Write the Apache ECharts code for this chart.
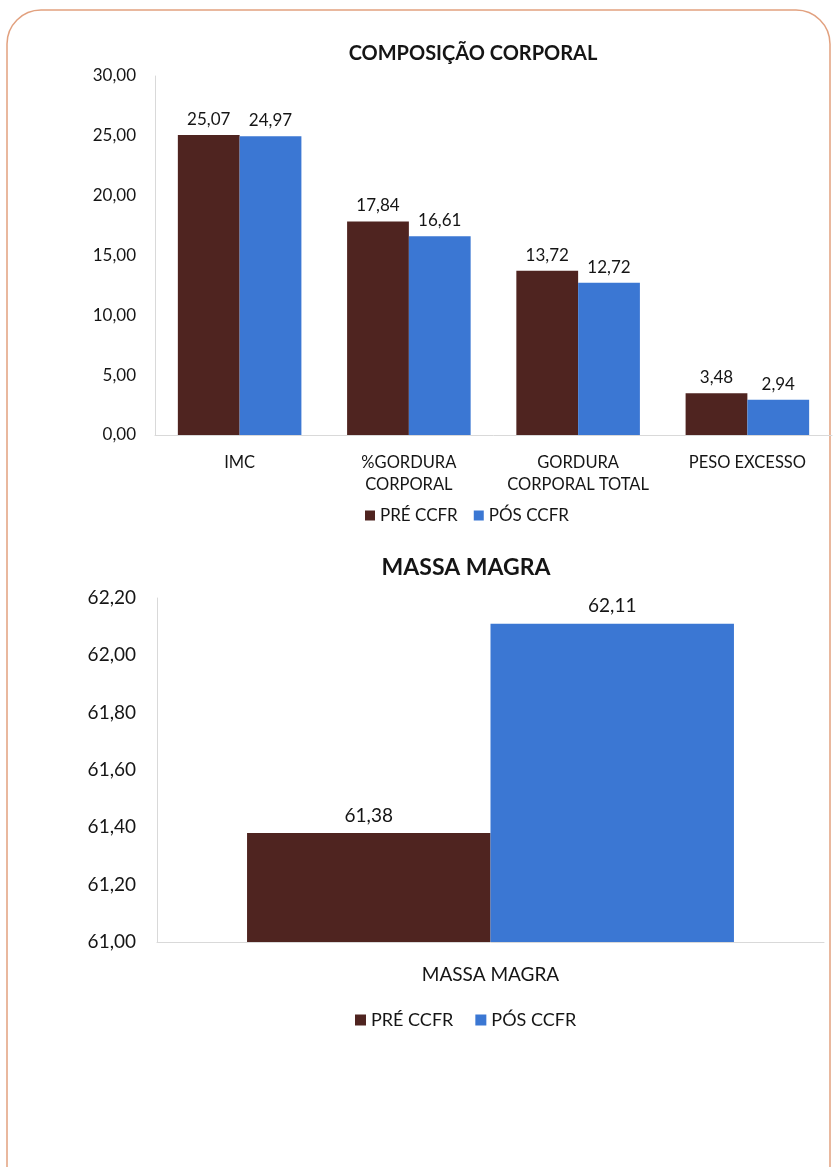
<!DOCTYPE html>
<html>
<head>
<meta charset="utf-8">
<script src="https://cdn.jsdelivr.net/npm/echarts@6/dist/echarts.min.js"></script>
<style>
html,body{margin:0;padding:0;background:#fff;}
#c{width:836px;height:1167px;}
</style>
</head>
<body>
<div id="c"></div>
<script>
// ---- data ----
const series_names = ['PRÉ CCFR', 'PÓS CCFR'];
const comp_categories = ['IMC', '%GORDURA\nCORPORAL', 'GORDURA\nCORPORAL TOTAL', 'PESO EXCESSO'];
const comp_pre = [25.07, 17.84, 13.72, 3.48];
const comp_pos = [24.97, 16.61, 12.72, 2.94];
const massa_categories = ['MASSA MAGRA'];
const massa_pre = [61.38];
const massa_pos = [62.11];
const comp_title = 'COMPOSIÇÃO CORPORAL';
const massa_title = 'MASSA MAGRA';

const FONT = 'Lato';
const BROWN = '#4f2420';
const BLUE = '#3b77d3';
const TXT = '#151515';
const fmt = v => Number(v).toFixed(2).replace('.', ',');

const chart = echarts.init(document.getElementById('c'), null, {renderer: 'canvas'});
chart.setOption({
  backgroundColor: '#fff',
  animation: false,
  textStyle: {fontFamily: FONT, color: TXT},
  graphic: [{
    type: 'rect',
    shape: {x: 7, y: 10, width: 823, height: 1190, r: 34},
    style: {fill: 'none', stroke: '#e2a17f', lineWidth: 1.5},
    z: -1
  }],
  title: [
    {text: comp_title, left: 468, top: 49, textAlign: 'center', textVerticalAlign: 'middle',
     textStyle: {fontFamily: FONT, fontSize: 20, fontWeight: 'bold', color: TXT}},
    {text: massa_title, left: 461, top: 563, textAlign: 'center', textVerticalAlign: 'middle',
     textStyle: {fontFamily: FONT, fontSize: 23, fontWeight: 'bold', color: TXT}}
  ],
  legend: [
    {data: series_names, left: 360, top: 502,
     icon: 'rect', itemWidth: 10, itemHeight: 10, itemGap: 16,
     textStyle: {fontFamily: FONT, fontSize: 17, color: TXT}},
    {data: series_names, left: 350, top: 1006,
     icon: 'rect', itemWidth: 11, itemHeight: 11, itemGap: 22,
     textStyle: {fontFamily: FONT, fontSize: 18, color: TXT}}
  ],
  grid: [
    {left: 155, right: 4, top: 76, height: 359, containLabel: false},
    {left: 157, right: 12, top: 598, height: 344, containLabel: false}
  ],
  xAxis: [
    {type: 'category', gridIndex: 0, data: comp_categories,
     axisLine: {lineStyle: {color: '#d9d9d9'}}, axisTick: {show: false},
     axisLabel: {fontFamily: FONT, fontSize: 16.5, color: TXT, margin: 17, lineHeight: 22, interval: 0}},
    {type: 'category', gridIndex: 1, data: massa_categories,
     axisLine: {lineStyle: {color: '#d9d9d9'}}, axisTick: {show: false},
     axisLabel: {fontFamily: FONT, fontSize: 19, color: TXT, margin: 23}}
  ],
  yAxis: [
    {type: 'value', gridIndex: 0, min: 0, max: 30, interval: 5,
     axisLine: {show: true, lineStyle: {color: '#d9d9d9'}}, axisTick: {show: false},
     splitLine: {show: false},
     axisLabel: {fontFamily: FONT, fontSize: 17, color: TXT, margin: 19, formatter: fmt}},
    {type: 'value', gridIndex: 1, min: 61, max: 62.2, interval: 0.2,
     axisLine: {show: true, lineStyle: {color: '#d9d9d9'}}, axisTick: {show: false},
     splitLine: {show: false},
     axisLabel: {fontFamily: FONT, fontSize: 19, color: TXT, margin: 21, formatter: fmt}}
  ],
  series: [
    {name: series_names[0], type: 'bar', xAxisIndex: 0, yAxisIndex: 0, data: comp_pre,
     itemStyle: {color: BROWN}, barGap: '0%', barCategoryGap: '27%',
     label: {show: true, position: 'top', distance: 7, fontFamily: FONT, fontSize: 17, color: TXT,
             formatter: p => fmt(p.value)}},
    {name: series_names[1], type: 'bar', xAxisIndex: 0, yAxisIndex: 0, data: comp_pos,
     itemStyle: {color: BLUE}, barGap: '0%', barCategoryGap: '27%',
     label: {show: true, position: 'top', distance: 7, fontFamily: FONT, fontSize: 17, color: TXT,
             formatter: p => fmt(p.value)}},
    {name: series_names[0], type: 'bar', xAxisIndex: 1, yAxisIndex: 1, data: massa_pre,
     itemStyle: {color: BROWN}, barGap: '0%', barCategoryGap: '27%',
     label: {show: true, position: 'top', distance: 8, fontFamily: FONT, fontSize: 19, color: TXT,
             formatter: p => fmt(p.value)}},
    {name: series_names[1], type: 'bar', xAxisIndex: 1, yAxisIndex: 1, data: massa_pos,
     itemStyle: {color: BLUE}, barGap: '0%', barCategoryGap: '27%',
     label: {show: true, position: 'top', distance: 8, fontFamily: FONT, fontSize: 19, color: TXT,
             formatter: p => fmt(p.value)}}
  ]
});
</script>
</body>
</html>
